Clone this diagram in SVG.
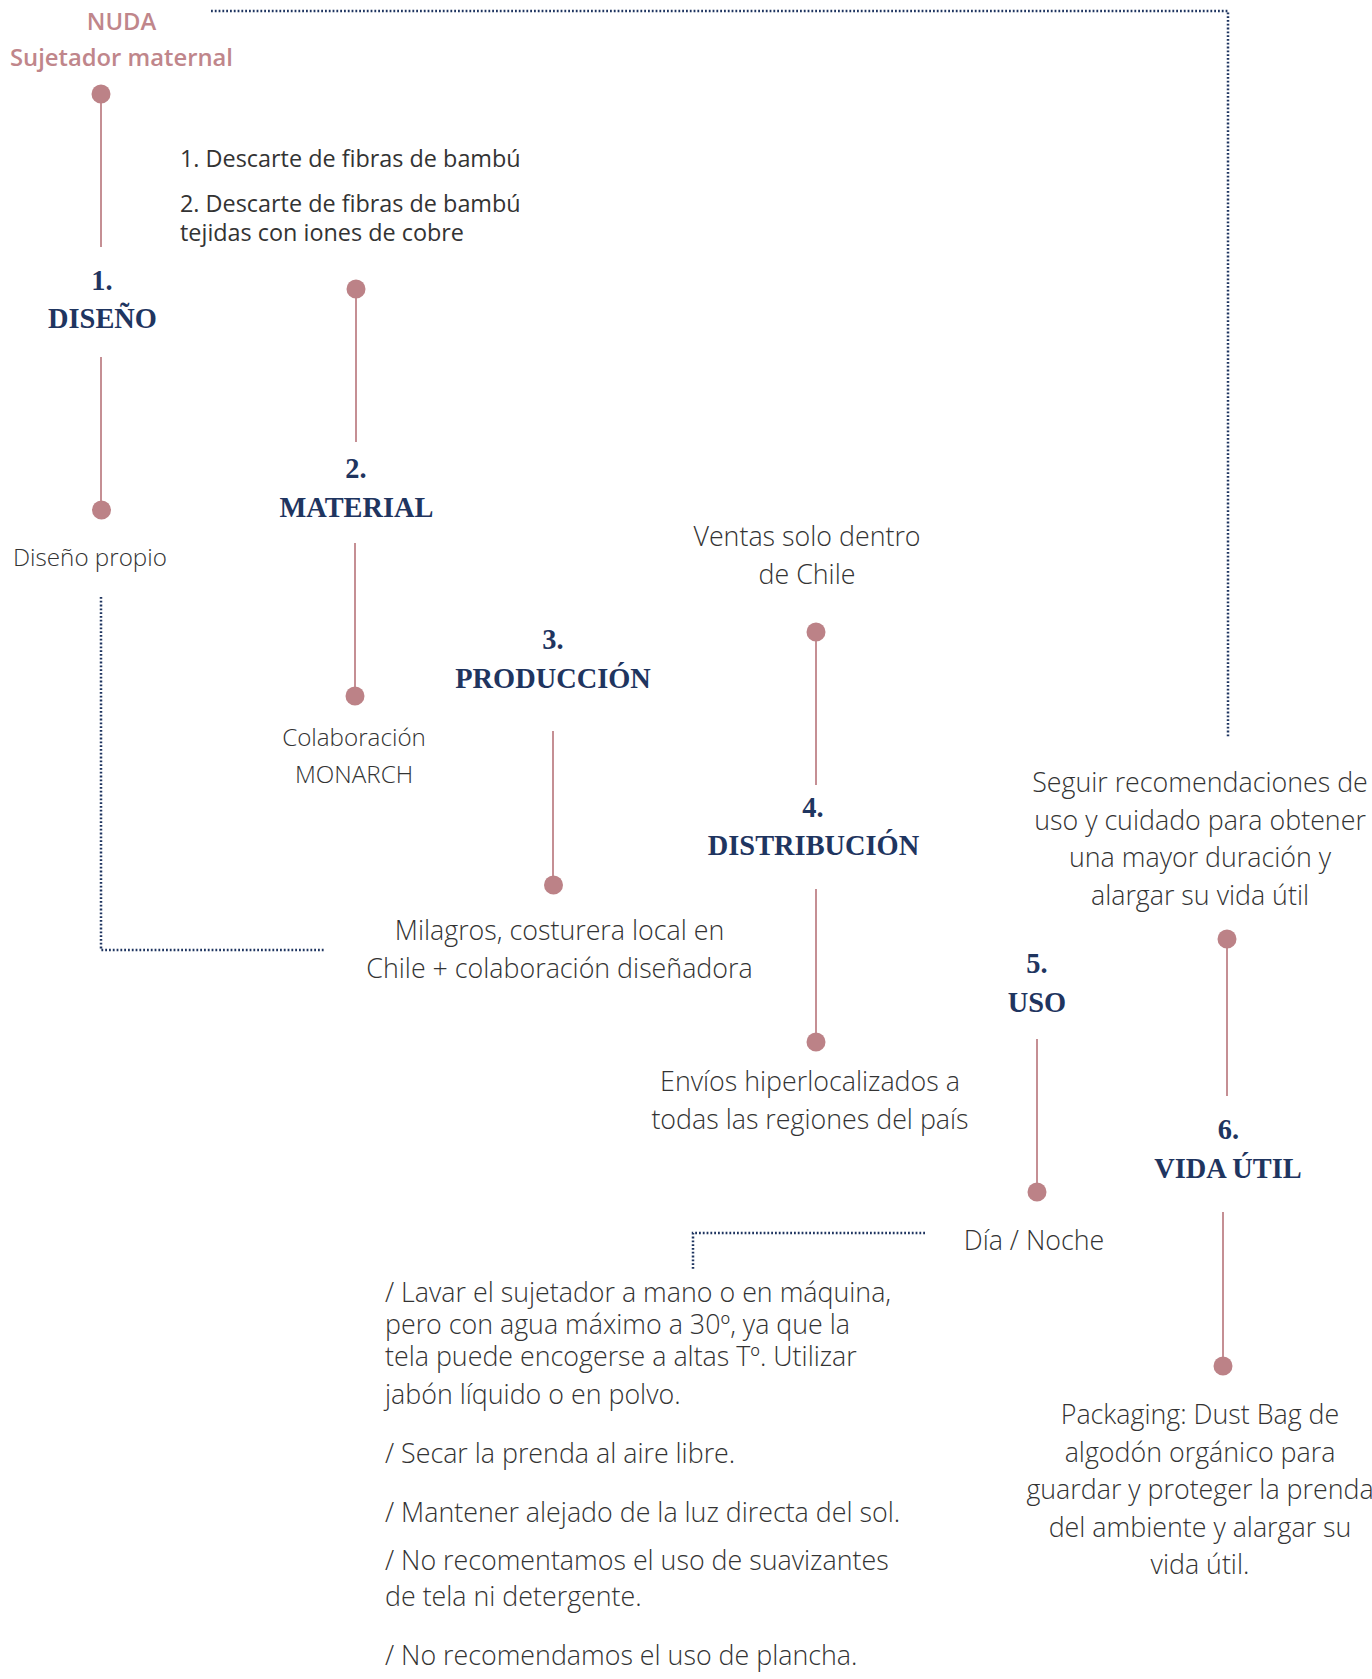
<svg xmlns="http://www.w3.org/2000/svg" width="1372" height="1679" viewBox="0 0 1372 1679">
<style>
.bg{fill:#ffffff}
.title{font-family:"Open Sans","Liberation Sans",sans-serif;font-size:23.8px;font-weight:600;fill:#c0868b;text-anchor:middle}
.head{font-family:"Liberation Serif","DejaVu Serif",serif;font-size:28.4px;font-weight:bold;fill:#1f3560;text-anchor:middle}
.body{font-family:"Open Sans","Liberation Sans",sans-serif;font-size:26.8px;font-weight:300;fill:#333333}
.lbl{font-family:"Open Sans","Liberation Sans",sans-serif;font-size:24.2px;font-weight:300;fill:#333333}
.mid{text-anchor:middle}
.small{font-family:"Open Sans","Liberation Sans",sans-serif;font-size:23.4px;font-weight:400;fill:#333333}
.stem{stroke:#c58f94;stroke-width:2;fill:none}
.dot{fill:#bc8287}
.dotted{stroke:#1f3560;stroke-width:2.5;stroke-dasharray:1.8 2;fill:none}
</style>
<rect class="bg" x="0" y="0" width="1372" height="1679"/>

<g id="connectors">
  <path class="dotted" d="M211 11 H1228 V737"/>
  <path class="dotted" d="M101 597 V950 H324"/>
  <path class="dotted" d="M925 1233 H693 V1269"/>
  <line class="stem" x1="101" y1="94" x2="101" y2="247"/>
  <line class="stem" x1="101" y1="357" x2="101" y2="510"/>
  <line class="stem" x1="356" y1="289" x2="356" y2="442"/>
  <line class="stem" x1="355" y1="543" x2="355" y2="696"/>
  <line class="stem" x1="553" y1="731" x2="553" y2="885"/>
  <line class="stem" x1="816" y1="632" x2="816" y2="785"/>
  <line class="stem" x1="816" y1="889" x2="816" y2="1042"/>
  <line class="stem" x1="1037" y1="1039" x2="1037" y2="1192"/>
  <line class="stem" x1="1227" y1="939" x2="1227" y2="1096"/>
  <line class="stem" x1="1223" y1="1212" x2="1223" y2="1366"/>
</g>

<g id="title">
  <text class="title" x="121.5" y="30">NUDA</text>
  <text class="title" x="121.5" y="66">Sujetador maternal</text>
  <circle class="dot" cx="101" cy="94" r="9.5"/>
</g>

<g id="node-diseno">
  <text class="head" x="102" y="290">1.</text>
  <text class="head" x="102.5" y="328">DISEÑO</text>
  <circle class="dot" cx="101.5" cy="510" r="9.5"/>
  <text class="lbl" x="13" y="566">Diseño propio</text>
</g>

<g id="node-material">
  <circle class="dot" cx="356" cy="289" r="9.5"/>
  <text class="small" x="180" y="167">1. Descarte de fibras de bambú</text>
  <text class="small" x="180" y="212">2. Descarte de fibras de bambú</text>
  <text class="small" x="180" y="241">tejidas con iones de cobre</text>
  <text class="head" x="356" y="478">2.</text>
  <text class="head" x="356.5" y="517">MATERIAL</text>
  <circle class="dot" cx="355" cy="696" r="9.5"/>
  <text class="lbl mid" x="354" y="746">Colaboración</text>
  <text class="lbl mid" x="354" y="783">MONARCH</text>
</g>

<g id="node-produccion">
  <text class="head" x="553" y="649">3.</text>
  <text class="head" x="553" y="688">PRODUCCIÓN</text>
  <circle class="dot" cx="553.5" cy="885" r="9.5"/>
  <text class="body mid" x="559.5" y="940">Milagros, costurera local en</text>
  <text class="body mid" x="559.5" y="978">Chile + colaboración diseñadora</text>
</g>

<g id="node-distribucion">
  <text class="body mid" x="807" y="546">Ventas solo dentro</text>
  <text class="body mid" x="807" y="584">de Chile</text>
  <circle class="dot" cx="816" cy="632" r="9.5"/>
  <text class="head" x="813" y="817">4.</text>
  <text class="head" x="813.5" y="855">DISTRIBUCIÓN</text>
  <circle class="dot" cx="816" cy="1042" r="9.5"/>
  <text class="body mid" x="810" y="1091">Envíos hiperlocalizados a</text>
  <text class="body mid" x="810" y="1129">todas las regiones del país</text>
</g>

<g id="node-uso">
  <text class="head" x="1037" y="973">5.</text>
  <text class="head" x="1037" y="1012">USO</text>
  <circle class="dot" cx="1037" cy="1192" r="9.5"/>
  <text class="body mid" x="1034" y="1250">Día / Noche</text>
</g>

<g id="care-notes">
  <text class="body" x="385" y="1302">/ Lavar el sujetador a mano o en máquina,</text>
  <text class="body" x="385" y="1334">pero con agua máximo a 30º, ya que la</text>
  <text class="body" x="385" y="1366">tela puede encogerse a altas Tº. Utilizar</text>
  <text class="body" x="385" y="1404">jabón líquido o en polvo.</text>
  <text class="body" x="385" y="1463">/ Secar la prenda al aire libre.</text>
  <text class="body" x="385" y="1522">/ Mantener alejado de la luz directa del sol.</text>
  <text class="body" x="385" y="1570">/ No recomentamos el uso de suavizantes</text>
  <text class="body" x="385" y="1606">de tela ni detergente.</text>
  <text class="body" x="385" y="1665">/ No recomendamos el uso de plancha.</text>
</g>

<g id="node-vida-util">
  <text class="body mid" x="1200" y="792">Seguir recomendaciones de</text>
  <text class="body mid" x="1200" y="830">uso y cuidado para obtener</text>
  <text class="body mid" x="1200" y="867">una mayor duración y</text>
  <text class="body mid" x="1200" y="905">alargar su vida útil</text>
  <circle class="dot" cx="1227" cy="939" r="9.5"/>
  <text class="head" x="1228.5" y="1139">6.</text>
  <text class="head" x="1228" y="1178">VIDA ÚTIL</text>
  <circle class="dot" cx="1223" cy="1366" r="9.5"/>
  <text class="body mid" x="1200" y="1424">Packaging: Dust Bag de</text>
  <text class="body mid" x="1200" y="1462">algodón orgánico para</text>
  <text class="body mid" x="1200" y="1499">guardar y proteger la prenda</text>
  <text class="body mid" x="1200" y="1537">del ambiente y alargar su</text>
  <text class="body mid" x="1200" y="1574">vida útil.</text>
</g>
</svg>
